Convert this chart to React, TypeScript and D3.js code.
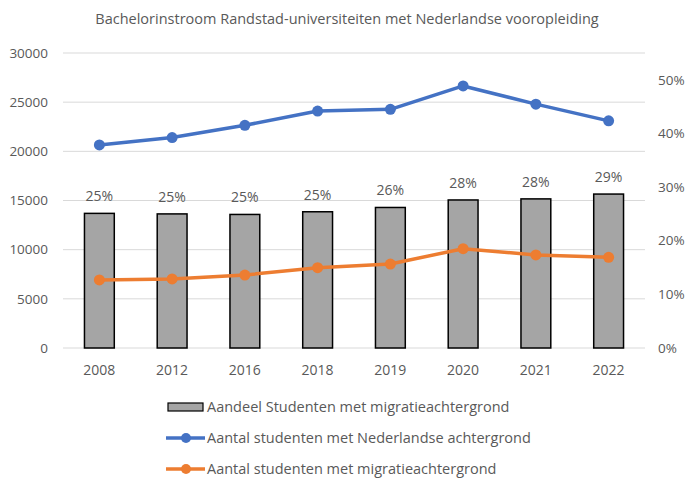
import React from "react";
import * as d3 from "d3";

const years = ["2008", "2012", "2016", "2018", "2019", "2020", "2021", "2022"];
const shareMigration = [0.251, 0.25, 0.249, 0.254, 0.262, 0.276, 0.278, 0.287];
const countDutch = [20650, 21400, 22650, 24100, 24270, 26650, 24800, 23100];
const countMigration = [6920, 7020, 7420, 8170, 8540, 10100, 9460, 9220];
const leftTicks = [0, 5000, 10000, 15000, 20000, 25000, 30000];
const rightTicks = [0, 0.1, 0.2, 0.3, 0.4, 0.5];

const title = "Bachelorinstroom Randstad-universiteiten met Nederlandse vooropleiding";
const legendLabels = [
  "Aandeel Studenten met migratieachtergrond",
  "Aantal studenten met Nederlandse achtergrond",
  "Aantal studenten met migratieachtergrond",
];

const W = 700;
const H = 492;
const plot = { left: 63, right: 645, top: 53, bottom: 348 };
const textColor = "#595959";
const font = "'Open Sans', 'Noto Sans', sans-serif";
const blue = "#4472c4";
const orange = "#ed7d31";

export default function App() {
  const x = d3.scaleBand<string>().domain(years).range([plot.left, plot.right]).paddingInner(0.59).paddingOuter(0.295);
  const yL = d3.scaleLinear().domain([0, 30000]).range([plot.bottom, plot.top]);
  const yR = d3.scaleLinear().domain([0, 0.55]).range([plot.bottom, plot.top]);
  const cx = (i: number) => (x(years[i]) as number) + x.bandwidth() / 2;

  const line = d3
    .line<number>()
    .x((_, i) => cx(i))
    .y((d) => yL(d));

  return (
    <svg
      width={W}
      height={H}
      style={{ position: "absolute", left: 0, top: 0, background: "#fff" }}
      fontFamily={font}
    >
      <rect width={W} height={H} fill="#fff" />
      <text x={347} y={24} textAnchor="middle" fontSize={14.5} fill={textColor}>
        {title}
      </text>
      {leftTicks.map((t) => (
        <line key={t} x1={plot.left} x2={plot.right} y1={yL(t)} y2={yL(t)} stroke="#d9d9d9" strokeWidth={1} />
      ))}
      {leftTicks.map((t) => (
        <text key={t} x={48} y={yL(t)} dy="0.35em" textAnchor="end" fontSize={13.5} fill={textColor}>
          {t}
        </text>
      ))}
      {rightTicks.map((t) => (
        <text key={t} x={658} y={yR(t)} dy="0.35em" textAnchor="start" fontSize={13.5} fill={textColor}>
          {d3.format(".0%")(t)}
        </text>
      ))}
      {shareMigration.map((v, i) => (
        <rect
          key={i}
          x={x(years[i])}
          y={yR(v)}
          width={x.bandwidth()}
          height={yR(0) - yR(v)}
          fill="#a5a5a5"
          stroke="#000"
          strokeWidth={1.5}
        />
      ))}
      {shareMigration.map((v, i) => (
        <text key={i} x={cx(i)} y={yR(v) - 12} textAnchor="middle" fontSize={14} fill={textColor}>
          {d3.format(".0%")(v)}
        </text>
      ))}
      {years.map((yv, i) => (
        <text key={yv} x={cx(i)} y={375} textAnchor="middle" fontSize={14} fill={textColor}>
          {yv}
        </text>
      ))}
      <path d={line(countDutch) || ""} fill="none" stroke={blue} strokeWidth={3.5} strokeLinejoin="round" />
      {countDutch.map((v, i) => (
        <circle key={i} cx={cx(i)} cy={yL(v)} r={5.5} fill={blue} />
      ))}
      <path d={line(countMigration) || ""} fill="none" stroke={orange} strokeWidth={3.5} strokeLinejoin="round" />
      {countMigration.map((v, i) => (
        <circle key={i} cx={cx(i)} cy={yL(v)} r={5.5} fill={orange} />
      ))}
      <g>
        <rect x={168} y={403} width={35} height={8} fill="#a5a5a5" stroke="#000" strokeWidth={1.2} />
        <text x={207} y={407} dy="0.35em" fontSize={14.5} fill={textColor}>
          {legendLabels[0]}
        </text>
        <line x1={166} x2={205} y1={438} y2={438} stroke={blue} strokeWidth={3.5} />
        <circle cx={186} cy={438} r={5} fill={blue} />
        <text x={207} y={438} dy="0.35em" fontSize={14.5} fill={textColor}>
          {legendLabels[1]}
        </text>
        <line x1={166} x2={205} y1={469} y2={469} stroke={orange} strokeWidth={3.5} />
        <circle cx={186} cy={469} r={5} fill={orange} />
        <text x={207} y={469} dy="0.35em" fontSize={14.5} fill={textColor}>
          {legendLabels[2]}
        </text>
      </g>
    </svg>
  );
}
